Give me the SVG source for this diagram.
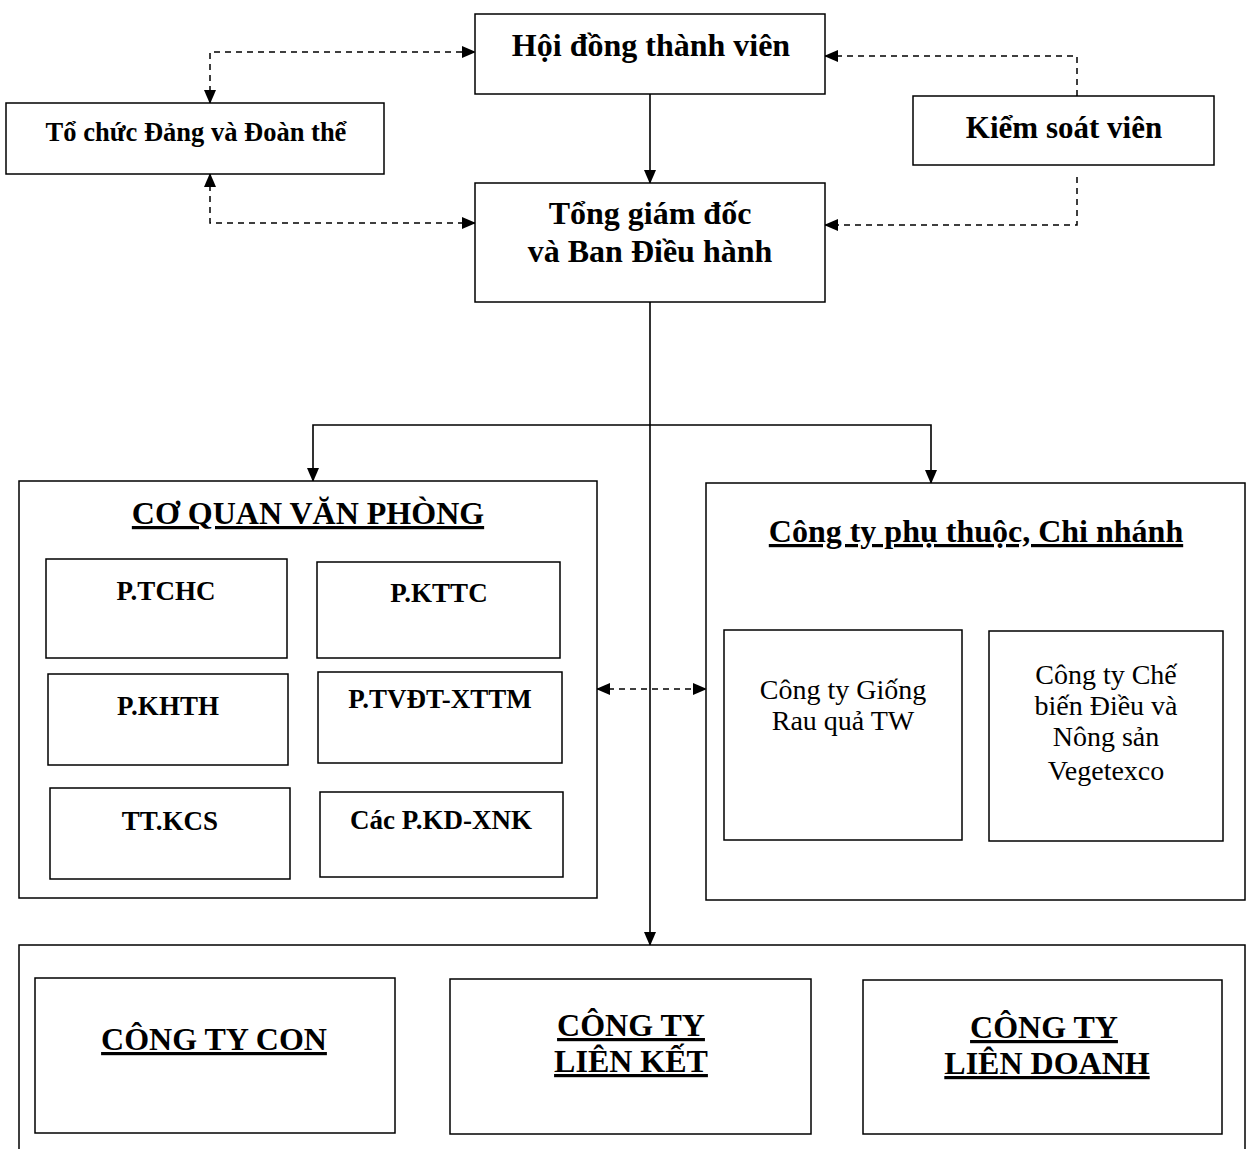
<svg xmlns="http://www.w3.org/2000/svg" width="1247" height="1149" viewBox="0 0 1247 1149">
<defs>
<marker id="ah" markerWidth="14" markerHeight="12" refX="13" refY="6" orient="auto" markerUnits="userSpaceOnUse">
<path d="M0,0 L14,6 L0,12 Z" fill="#000"/>
</marker>
<marker id="ahs" markerWidth="14" markerHeight="12" refX="1" refY="6" orient="auto" markerUnits="userSpaceOnUse">
<path d="M14,0 L0,6 L14,12 Z" fill="#000"/>
</marker>
<style>
.box{fill:#fff;stroke:#000;stroke-width:1.5}
.t{font-family:"Liberation Serif","Times New Roman",serif;font-weight:bold;fill:#000;text-anchor:middle}
.n{font-family:"Liberation Serif","Times New Roman",serif;font-weight:normal;fill:#000;text-anchor:middle}
.u{text-decoration:underline}
.solid{fill:none;stroke:#000;stroke-width:1.6}
.dash{fill:none;stroke:#000;stroke-width:1.5;stroke-dasharray:6 5}
</style>
</defs>
<rect width="1247" height="1149" fill="#fff"/>

<g id="connectors">
<path class="dash" d="M210,103 V52 H475" marker-start="url(#ahs)" marker-end="url(#ah)"/>
<path class="dash" d="M210,174 V223 H475" marker-start="url(#ahs)" marker-end="url(#ah)"/>
<path class="dash" d="M1077,96 V56 H825" marker-end="url(#ah)"/>
<path class="dash" d="M1077,177 V225 H825" marker-end="url(#ah)"/>
<path class="solid" d="M650,94 V183" marker-end="url(#ah)"/>
<path class="solid" d="M650,302 V945" marker-end="url(#ah)"/>
<path class="solid" d="M313,481 V425 H931 V483" marker-start="url(#ahs)" marker-end="url(#ah)"/>
<path class="dash" d="M597,689 H706" marker-start="url(#ahs)" marker-end="url(#ah)"/>
</g>

<g id="hoi-dong">
<rect class="box" x="475" y="14" width="350" height="80"/>
<text class="t" x="651" y="56" font-size="32">Hội đồng thành viên</text>
</g>
<g id="to-chuc-dang">
<rect class="box" x="6" y="103" width="378" height="71"/>
<text class="t" x="196" y="141" font-size="26.5">Tổ chức Đảng và Đoàn thể</text>
</g>
<g id="kiem-soat">
<rect class="box" x="913" y="96" width="301" height="69"/>
<text class="t" x="1064" y="138" font-size="31">Kiểm soát viên</text>
</g>
<g id="tong-giam-doc">
<rect class="box" x="475" y="183" width="350" height="119"/>
<text class="t" x="650" y="224" font-size="32">Tổng giám đốc</text>
<text class="t" x="650" y="262" font-size="32">và Ban Điều hành</text>
</g>

<g id="co-quan-van-phong">
<rect class="box" x="19" y="481" width="578" height="417"/>
<text class="t u" x="308" y="524" font-size="32">CƠ QUAN VĂN PHÒNG</text>
</g>
<g id="p-tchc"><rect class="box" x="46" y="559" width="241" height="99"/><text class="t" x="166" y="600" font-size="27">P.TCHC</text></g>
<g id="p-kttc"><rect class="box" x="317" y="562" width="243" height="96"/><text class="t" x="439" y="602" font-size="27">P.KTTC</text></g>
<g id="p-khth"><rect class="box" x="48" y="674" width="240" height="91"/><text class="t" x="168" y="715" font-size="27">P.KHTH</text></g>
<g id="p-tvdt"><rect class="box" x="318" y="672" width="244" height="91"/><text class="t" x="440" y="708" font-size="27">P.TVĐT-XTTM</text></g>
<g id="tt-kcs"><rect class="box" x="50" y="788" width="240" height="91"/><text class="t" x="170" y="830" font-size="27">TT.KCS</text></g>
<g id="p-kd-xnk"><rect class="box" x="320" y="792" width="243" height="85"/><text class="t" x="441" y="829" font-size="27">Các P.KD-XNK</text></g>

<g id="cong-ty-phu-thuoc">
<rect class="box" x="706" y="483" width="539" height="417"/>
<text class="t u" x="976" y="542" font-size="32">Công ty phụ thuộc, Chi nhánh</text>
</g>
<g id="cong-ty-giong">
<rect class="box" x="724" y="630" width="238" height="210"/>
<text class="n" x="843" y="699" font-size="28">Công ty Giống</text>
<text class="n" x="843" y="730" font-size="28">Rau quả TW</text>
</g>
<g id="cong-ty-che-bien">
<rect class="box" x="989" y="631" width="234" height="210"/>
<text class="n" x="1106" y="684" font-size="28">Công ty Chế</text>
<text class="n" x="1106" y="715" font-size="28">biến Điều và</text>
<text class="n" x="1106" y="746" font-size="28">Nông sản</text>
<text class="n" x="1106" y="780" font-size="28">Vegetexco</text>
</g>

<g id="khoi-cong-ty">
<rect class="box" x="19" y="945" width="1226" height="215"/>
</g>
<g id="cong-ty-con">
<rect class="box" x="35" y="978" width="360" height="155"/>
<text class="t u" x="214" y="1050" font-size="32">CÔNG TY CON</text>
</g>
<g id="cong-ty-lien-ket">
<rect class="box" x="450" y="979" width="361" height="155"/>
<text class="t u" x="631" y="1036" font-size="32">CÔNG TY</text>
<text class="t u" x="631" y="1072" font-size="32">LIÊN KẾT</text>
</g>
<g id="cong-ty-lien-doanh">
<rect class="box" x="863" y="980" width="359" height="154"/>
<text class="t u" x="1044" y="1038" font-size="32">CÔNG TY</text>
<text class="t u" x="1047" y="1074" font-size="32">LIÊN DOANH</text>
</g>
</svg>
